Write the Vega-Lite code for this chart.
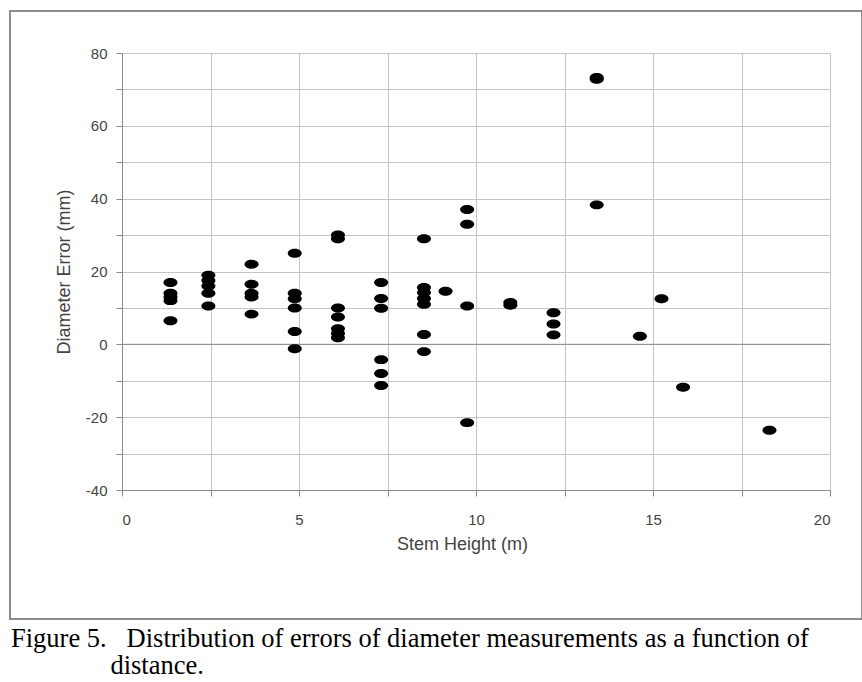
{
  "$schema": "https://vega.github.io/schema/vega-lite/v6.json",
  "width": 852,
  "height": 608,
  "autosize": {"type": "none"},
  "padding": {"left": 10, "top": 11, "right": 0, "bottom": 63},
  "background": "white",
  "config": {"view": {"stroke": "#8c8c8c", "strokeWidth": 2}},
  "title": {
    "text": ["Figure 5.\u00a0\u00a0\u00a0Distribution of errors of diameter measurements as a function of", "\u200b\u00a0\u00a0\u00a0\u00a0\u00a0\u00a0\u00a0\u00a0\u00a0\u00a0\u00a0\u00a0\u00a0\u00a0\u00a0distance."],
    "orient": "bottom",
    "anchor": "start",
    "frame": "group",
    "dx": 1,
    "offset": 7,
    "font": "Liberation Serif",
    "fontSize": 26.5,
    "fontWeight": "normal",
    "color": "#000000",
    "lineHeight": 26.5
  },
  "resolve": {"axis": {"x": "independent", "y": "independent"}},
  "layer": [
    {
      "data": {"values": [{"zero": 0}]},
      "mark": {"type": "rule", "color": "#8a8a8a", "strokeWidth": 1},
      "encoding": {
        "y": {
          "field": "zero", "type": "quantitative",
          "scale": {"domain": [-40, 80], "range": [479, 42], "nice": false},
          "axis": {"orient": "left", "offset": 0, "values": [-40, -30, -20, -10, 0, 10, 20, 30, 40, 50, 60, 70, 80], "grid": true, "gridColor": "#c4c4c4", "gridWidth": 1, "domain": false, "ticks": false, "labels": false, "title": null}
        },
        "x": {
          "datum": 0, "type": "quantitative",
          "scale": {"domain": [0, 20], "range": [112, 820], "nice": false},
          "axis": {"orient": "top", "offset": 0, "values": [0, 2.5, 5, 7.5, 10, 12.5, 15, 17.5, 20], "grid": true, "gridColor": "#c4c4c4", "gridWidth": 1, "domain": false, "ticks": false, "labels": false, "title": null}
        },
        "x2": {"datum": 20}
      }
    },
    {
      "data": {"values": [
        {"h": 1.37, "e": 17}, {"h": 1.37, "e": 14}, {"h": 1.37, "e": 13}, {"h": 1.37, "e": 12}, {"h": 1.37, "e": 6.5},
        {"h": 2.44, "e": 19}, {"h": 2.44, "e": 17.5}, {"h": 2.44, "e": 16}, {"h": 2.44, "e": 14}, {"h": 2.44, "e": 10.5},
        {"h": 3.66, "e": 22}, {"h": 3.66, "e": 16.5}, {"h": 3.66, "e": 14}, {"h": 3.66, "e": 13}, {"h": 3.66, "e": 8.3},
        {"h": 4.88, "e": 25}, {"h": 4.88, "e": 14}, {"h": 4.88, "e": 12.5}, {"h": 4.88, "e": 10}, {"h": 4.88, "e": 3.5}, {"h": 4.88, "e": -1.2},
        {"h": 6.1, "e": 30}, {"h": 6.1, "e": 29}, {"h": 6.1, "e": 10}, {"h": 6.1, "e": 7.5}, {"h": 6.1, "e": 4.3}, {"h": 6.1, "e": 3}, {"h": 6.1, "e": 1.8},
        {"h": 7.32, "e": 17}, {"h": 7.32, "e": 12.6}, {"h": 7.32, "e": 9.9}, {"h": 7.32, "e": -4.2}, {"h": 7.32, "e": -8}, {"h": 7.32, "e": -11.3},
        {"h": 8.53, "e": 29}, {"h": 8.53, "e": 15.6}, {"h": 8.53, "e": 14.2}, {"h": 8.53, "e": 12.6}, {"h": 8.53, "e": 11}, {"h": 8.53, "e": 2.7}, {"h": 8.53, "e": -2},
        {"h": 9.14, "e": 14.6},
        {"h": 9.75, "e": 37}, {"h": 9.75, "e": 33}, {"h": 9.75, "e": 10.5}, {"h": 9.75, "e": -21.5},
        {"h": 10.97, "e": 11.5}, {"h": 10.97, "e": 10.7},
        {"h": 12.19, "e": 8.7}, {"h": 12.19, "e": 5.6}, {"h": 12.19, "e": 2.6},
        {"h": 13.41, "e": 73.3}, {"h": 13.41, "e": 72.8}, {"h": 13.41, "e": 38.3},
        {"h": 14.63, "e": 2.2},
        {"h": 15.24, "e": 12.5},
        {"h": 15.85, "e": -11.8},
        {"h": 18.29, "e": -23.6}
      ]},
      "mark": {"type": "point", "filled": true, "opacity": 1, "color": "#000000", "size": 196, "shape": "M-1,0A1,0.64 0 1,0 1,0A1,0.64 0 1,0 -1,0Z"},
      "encoding": {
        "x": {
          "field": "h", "type": "quantitative",
          "scale": {"domain": [0, 20], "range": [112, 820], "nice": false},
          "axis": {
            "orient": "bottom",
            "offset": -129,
            "values": [0, 2.5, 5, 7.5, 10, 12.5, 15, 17.5, 20],
            "labelExpr": "datum.value % 5 === 0 ? '' + datum.value : ''",
            "grid": false,
            "domainColor": "#8a8a8a", "tickColor": "#8a8a8a", "tickSize": 6,
            "labelFont": "Liberation Sans", "labelFontSize": 15, "labelColor": "#444444", "labelPadding": 16,
            "title": "Stem Height (m)", "titleFont": "Liberation Sans", "titleFontSize": 18, "titleFontWeight": "normal", "titleColor": "#444444", "titlePadding": 8, "titleX": 452
          }
        },
        "y": {
          "field": "e", "type": "quantitative",
          "scale": {"domain": [-40, 80], "range": [479, 42], "nice": false},
          "axis": {
            "orient": "left",
            "offset": -112,
            "values": [-40, -30, -20, -10, 0, 10, 20, 30, 40, 50, 60, 70, 80],
            "labelExpr": "datum.value % 20 === 0 ? '' + datum.value : ''",
            "grid": false,
            "domainColor": "#8a8a8a", "tickColor": "#8a8a8a", "tickSize": 6,
            "labelFont": "Liberation Sans", "labelFontSize": 15, "labelColor": "#444444", "labelPadding": 9,
            "title": "Diameter Error (mm)", "titleFont": "Liberation Sans", "titleFontSize": 18, "titleFontWeight": "normal", "titleColor": "#444444", "titlePadding": 12
          }
        }
      }
    }
  ]
}
